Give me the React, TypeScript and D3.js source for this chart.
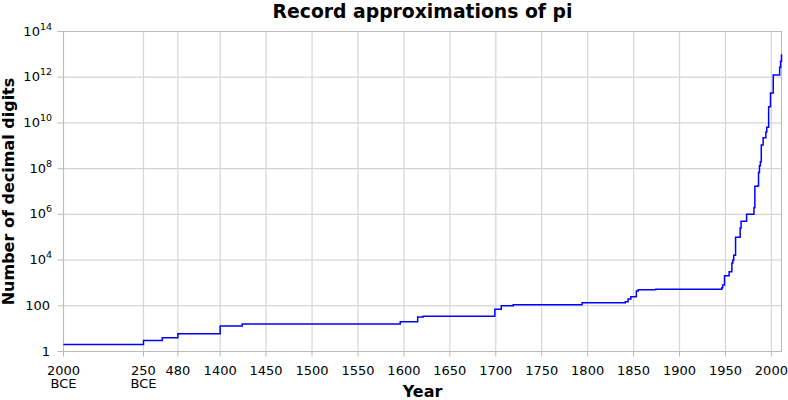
import React from "react";
import * as d3 from "d3";

// ---- data ----
const recordYears = [
  -2000, -250, 150, 480, 1400, 1424, 1596, 1615, 1621, 1699, 1706, 1719, 1794,
  1841, 1844, 1847, 1853, 1855, 1874, 1946, 1947, 1949, 1954, 1957, 1958, 1959,
  1961, 1966, 1967, 1973, 1981, 1982, 1982, 1982, 1985, 1986, 1986, 1986, 1987,
  1988, 1989, 1989, 1989, 1989, 1991, 1994, 1995, 1997, 1999, 2002, 2009, 2010,
  2011,
];
const recordDigits = [
  2, 3, 4, 6, 13, 16, 20, 32, 35, 71, 100, 112, 136,
  152, 200, 248, 440, 500, 527, 620, 808, 2037, 3092, 7480, 10000, 16167,
  100265, 250000, 500000, 1001250, 2000036, 4194293, 8388576, 16777206, 17526200,
  29360111, 33554414, 67108839, 134217700, 201326551, 480000000, 535339270,
  1011196691, 1073740799, 2260000000, 4044000000, 6442450000, 51539600000,
  206158430000, 1241100000000, 2699999990000, 5000000000000, 10000000000000,
];

const xTickYears = [-2000, -250, 480, 1400, 1450, 1500, 1550, 1600, 1650, 1700, 1750, 1800, 1850, 1900, 1950, 2000];
const xTickLabels = [
  ["2000", "BCE"], ["250", "BCE"], ["480"], ["1400"], ["1450"], ["1500"], ["1550"], ["1600"],
  ["1650"], ["1700"], ["1750"], ["1800"], ["1850"], ["1900"], ["1950"], ["2000"],
];
const xBreakYears = [-2000, -250, 480, 1400, 2011];
const yTickExponents = [0, 2, 4, 6, 8, 10, 12, 14];
const yPlainLabels: Record<number, string> = { 0: "1", 2: "100" };

const TITLE = "Record approximations of pi";
const X_LABEL = "Year";
const Y_LABEL = "Number of decimal digits";

// ---- layout ----
const W = 788;
const H = 400;
const left = 63.5;
const right = 781.5;
const top = 31.5;
const bottom = 351.5;
const breakFractions = [0, 0.1114, 0.1593, 0.2182, 1];
const FONT = "'DejaVu Sans', sans-serif";

export default function App() {
  const x = d3
    .scaleLinear()
    .domain(xBreakYears)
    .range(breakFractions.map((f) => left + f * (right - left)));
  const y = d3.scaleLog().domain([1, 1e14]).range([bottom, top]);

  const pts: [number, number][] = recordYears.map((yr, i) => [yr, recordDigits[i]]);
  const line = d3
    .line<[number, number]>()
    .x((d) => x(d[0]))
    .y((d) => y(d[1]))
    .curve(d3.curveStepAfter);

  return (
    <svg
      width={W}
      height={H}
      style={{ position: "absolute", left: 0, top: 0, background: "#fff" }}
      fontFamily={FONT}
    >
      <rect x={0} y={0} width={W} height={H} fill="#fff" />
      {/* grid */}
      {yTickExponents.map((e) => (
        <line key={"gy" + e} x1={left} x2={right} y1={y(Math.pow(10, e))} y2={y(Math.pow(10, e))} stroke="#cccccc" strokeWidth={1} />
      ))}
      {xTickYears.map((t) => (
        <line key={"gx" + t} x1={x(t)} x2={x(t)} y1={top} y2={bottom} stroke="#d6d6d6" strokeWidth={1.2} />
      ))}
      {/* frame */}
      <rect x={left} y={top} width={right - left} height={bottom - top} fill="none" stroke="#bbbbbb" strokeWidth={1} />
      {/* ticks */}
      {yTickExponents.map((e) => (
        <line key={"ty" + e} x1={left - 6} x2={left} y1={y(Math.pow(10, e))} y2={y(Math.pow(10, e))} stroke="#bbbbbb" strokeWidth={1} />
      ))}
      {xTickYears.map((t) => (
        <line key={"tx" + t} x1={x(t)} x2={x(t)} y1={bottom} y2={bottom + 5} stroke="#bbbbbb" strokeWidth={1} />
      ))}
      {/* data */}
      <path d={line(pts) || ""} fill="none" stroke="#0000ff" strokeWidth={1.5} />
      {/* y tick labels */}
      {yTickExponents.map((e) => {
        const yy = y(Math.pow(10, e));
        if (yPlainLabels[e] !== undefined) {
          return (
            <text key={"ly" + e} x={50} y={yy + 4.5} fontSize={13} textAnchor="end" fill="#000">
              {yPlainLabels[e]}
            </text>
          );
        }
        return (
          <text key={"ly" + e} x={52} y={yy + 4} fontSize={13} textAnchor="end" fill="#000">
            10
            <tspan fontSize={9.5} dy={-6}>
              {String(e)}
            </tspan>
          </text>
        );
      })}
      {/* x tick labels */}
      {xTickYears.map((t, i) => (
        <text key={"lx" + t} x={x(t)} y={374.5} fontSize={13} textAnchor="middle" fill="#000">
          {xTickLabels[i].map((s, j) => (
            <tspan key={j} x={x(t)} dy={j === 0 ? 0 : 13.5}>
              {s}
            </tspan>
          ))}
        </text>
      ))}
      {/* titles */}
      <text x={(left + right) / 2} y={17.5} fontSize={18.8} fontWeight="bold" textAnchor="middle" fill="#000">
        {TITLE}
      </text>
      <text x={(left + right) / 2} y={397} fontSize={16} fontWeight="bold" textAnchor="middle" fill="#000">
        {X_LABEL}
      </text>
      <text
        transform={`translate(14, ${(top + bottom) / 2}) rotate(-90)`}
        fontSize={16}
        fontWeight="bold"
        textAnchor="middle"
        fill="#000"
      >
        {Y_LABEL}
      </text>
    </svg>
  );
}
